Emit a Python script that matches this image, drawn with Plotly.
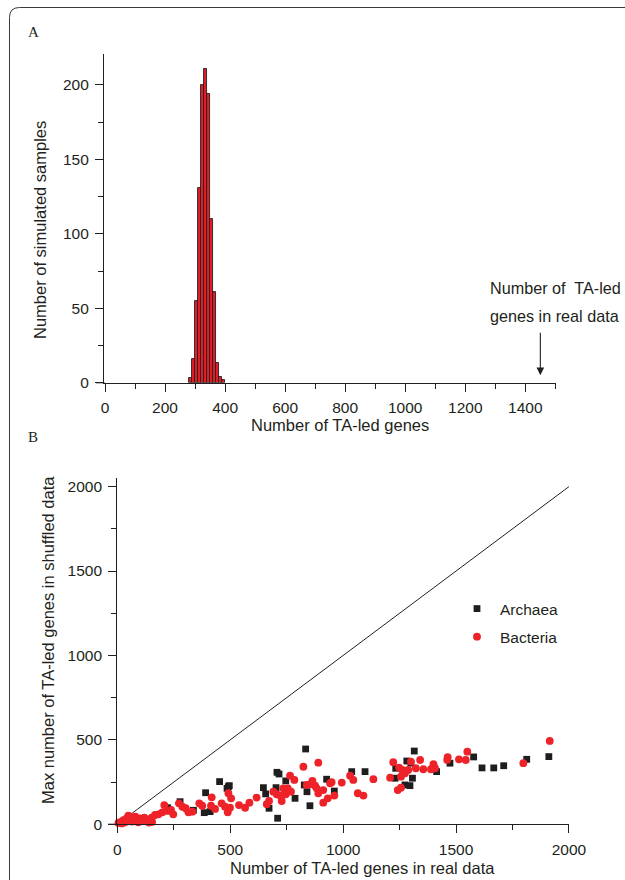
import plotly.graph_objects as go

# ---------------- data ----------------
# Panel A: histogram of simulated samples (bins of width 10)
bin_left = [280, 290, 300, 310, 320, 330, 340, 350, 360, 370, 380, 390]
bin_counts = [3, 16, 55, 131, 200, 211, 194, 110, 61, 13, 4, 2]
bin_width = 10
real_data_count = 1450

# Panel B: scatter
archaea_x = [391, 278, 385, 411, 337, 223, 453, 492, 486, 496, 834, 707, 716, 746,
             647, 657, 703, 672, 710, 787, 840, 853, 828, 927, 961, 1038, 1097, 1230,
             1282, 1315, 1307, 1274, 1296, 1414, 1233, 1300, 1473, 1578, 1615, 1667,
             1711, 1813, 1911]
archaea_y = [187, 134, 69, 75, 83, 98, 253, 223, 213, 229, 446, 308, 298, 257,
             217, 180, 217, 95, 36, 154, 193, 110, 233, 267, 197, 312, 312, 273,
             375, 434, 273, 233, 229, 312, 332, 362, 362, 399, 334, 334,
             347, 385, 401]

bacteria_x = [12, 27, 41, 56, 71, 86, 100, 115, 130, 64, 93, 34, 49, 154, 20, 5, 80,
              120, 140, 45,
              152, 167, 182, 199, 208, 223, 238, 248, 273, 288, 303, 315, 332, 363,
              376, 418, 415, 433,
              492, 504, 462, 477, 489, 499, 539, 566, 585, 617, 662, 672, 691, 706,
              721, 728, 735, 746, 755, 765, 769, 784, 824, 890, 839, 853, 864, 876,
              883, 890, 912, 912, 942, 932,
              949, 961, 994, 1031, 1045, 1065, 1090, 1134, 1208, 1222, 1242, 1256,
              1248, 1262, 1256, 1274, 1288, 1300, 1322, 1341, 1355, 1389, 1400, 1407,
              1463, 1461, 1513, 1543, 1550, 1798, 1915]
bacteria_y = [12, 25, 35, 45, 35, 25, 35, 25, 20, 16, 12, 12, 51, 14, 5, 8, 45,
              40, 10, 20,
              39, 55, 59, 71, 114, 79, 85, 59, 124, 104, 95, 71, 75, 124,
              110, 160, 110, 91,
              184, 154, 124, 104, 71, 98, 114, 98, 128, 158, 119, 138, 193, 178,
              170, 138, 213, 178, 213, 288, 193, 263, 341, 365, 233, 237, 257, 229,
              213, 184, 203, 128, 243, 154,
              249, 170, 247, 288, 263, 184, 170, 267, 276, 368, 203, 217,
              336, 322, 282, 302, 322, 371, 332, 381, 326, 326, 356, 332,
              397, 381, 385, 381, 430, 362, 494]

diag_x = [0, 2000]
diag_y = [0, 2000]

xA_ticks = [0, 200, 400, 600, 800, 1000, 1200, 1400]
yA_ticks = [0, 50, 100, 150, 200]
xB_ticks = [0, 500, 1000, 1500, 2000]
yB_ticks = [0, 500, 1000, 1500, 2000]

# ---------------- layout helpers ----------------
W, H = 625, 880
def PX(x):
    return x / W
def PY(y):
    return 1 - y / H

FONT = "Liberation Sans, Arial, sans-serif"
TICKFONT = dict(family=FONT, size=15.5, color="#231F20")
AXCOL = "#231F20"
RED = "#EE2229"
BLACK = "#1E1E1E"

fig = go.Figure()

fig.add_trace(go.Bar(
    x=[b + bin_width / 2 for b in bin_left], y=bin_counts, width=bin_width,
    marker=dict(color="#E41E26", line=dict(color="#231F20", width=0.9)),
    xaxis="x", yaxis="y", showlegend=False))

fig.add_trace(go.Scatter(
    x=diag_x, y=diag_y, mode="lines", line=dict(color="#231F20", width=1),
    xaxis="x2", yaxis="y2", showlegend=False, cliponaxis=False))

fig.add_trace(go.Scatter(
    x=archaea_x, y=archaea_y, mode="markers", name="Archaea",
    marker=dict(symbol="square", size=6.8, color=BLACK),
    xaxis="x2", yaxis="y2", cliponaxis=False, legendgroup="a"))

fig.add_trace(go.Scatter(
    x=bacteria_x, y=bacteria_y, mode="markers", name="Bacteria",
    marker=dict(symbol="circle", size=7.8, color=RED),
    xaxis="x2", yaxis="y2", cliponaxis=False, legendgroup="b"))

def axis_common(tickvals, dminor):
    return dict(
        tickmode="array", tickvals=tickvals, ticks="outside", ticklen=8, tickwidth=1.2,
        tickcolor=AXCOL, showline=True, linecolor=AXCOL, linewidth=1.2,
        showgrid=False, zeroline=False, tickfont=TICKFONT, ticklabelstandoff=3,
        automargin=False,
        minor=dict(dtick=dminor, tick0=0, ticks="outside", ticklen=5, tickwidth=1.1,
                   tickcolor=AXCOL, showgrid=False))

xA_range = [-1 / 0.3, 1500.5]
yA_range = [0, 220.8]
xB_range = [0, 2002]
yB_range = [0, 2050]

layout = dict(
    template="none",
    width=W, height=H, autosize=False, margin=dict(l=0, r=0, t=0, b=0, pad=0),
    paper_bgcolor="white", plot_bgcolor="white", bargap=0,
    font=dict(family=FONT, color="#231F20"),
    xaxis=dict(domain=[PX(104), PX(555.5)], range=xA_range, anchor="y",
               **axis_common(xA_ticks, 100)),
    yaxis=dict(domain=[PY(382.7), PY(54)], range=yA_range, anchor="x",
               **axis_common(yA_ticks, 25)),
    xaxis2=dict(domain=[PX(117.3), PX(569.4)], range=xB_range, anchor="y2",
                **axis_common(xB_ticks, 250)),
    yaxis2=dict(domain=[PY(824.3), PY(478.2)], range=yB_range, anchor="x2",
                **axis_common(yB_ticks, 250)),
    legend=dict(x=PX(454), y=PY(592), xanchor="left", yanchor="top",
                font=dict(family=FONT, size=15.5, color="#231F20"),
                bgcolor="rgba(0,0,0,0)", borderwidth=0, tracegroupgap=5, itemwidth=36),
)
fig.update_layout(**layout)

ann = []
def text(x, y, s, size=16.5, angle=0, family=FONT, xanchor="center"):
    ann.append(dict(x=PX(x), y=PY(y), xref="paper", yref="paper", text=s,
                    showarrow=False, textangle=angle, xanchor=xanchor, yanchor="middle",
                    font=dict(family=family, size=size, color="#231F20")))

text(339.5, 425, "Number of TA-led genes")
text(40, 230, "Number of simulated samples", angle=-90)
text(362, 868, "Number of TA-led genes in real data")
text(48, 640, "Max number of TA-led genes in shuffled data", angle=-90)
text(33, 32, "A", size=15, family="Liberation Serif, Times New Roman, serif")
text(33, 437, "B", size=15, family="Liberation Serif, Times New Roman, serif")
text(488, 288, "Number of  TA-led", size=16.2, xanchor="left")
text(488, 316, "genes in real data", size=16.2, xanchor="left")

# arrow pointing at the real-data count
ann.append(dict(x=real_data_count, y=5, xref="x", yref="y", ax=0, ay=-44,
                axref="pixel", ayref="pixel", showarrow=True, arrowhead=2,
                arrowsize=1.4, arrowwidth=1.1, arrowcolor="#231F20", text=""))
fig.update_layout(annotations=ann)

# panel frame with rounded corner and small axis overhangs
r = 10
x0, y0 = 9.5, 7.5
path = (f"M {PX(x0)} {PY(H + 5)} L {PX(x0)} {PY(y0 + r)} "
        f"Q {PX(x0)} {PY(y0)} {PX(x0 + r)} {PY(y0)} L {PX(W + 5)} {PY(y0)}")
shapes = [
    dict(type="path", path=path, xref="paper", yref="paper",
         line=dict(color="#3a3a3a", width=1)),
    dict(type="line", xref="paper", yref="paper", x0=PX(96), x1=PX(104.5),
         y0=PY(382.7), y1=PY(382.7), line=dict(color=AXCOL, width=1.2)),
    dict(type="line", xref="paper", yref="paper", x0=PX(108), x1=PX(117.5),
         y0=PY(824.3), y1=PY(824.3), line=dict(color=AXCOL, width=1.2)),
]
fig.update_layout(shapes=shapes)

fig.write_html(
    "out.html",
    config={"displayModeBar": False, "responsive": False},
    post_script="document.body.style.margin='0';document.body.style.overflow='hidden';",
)
